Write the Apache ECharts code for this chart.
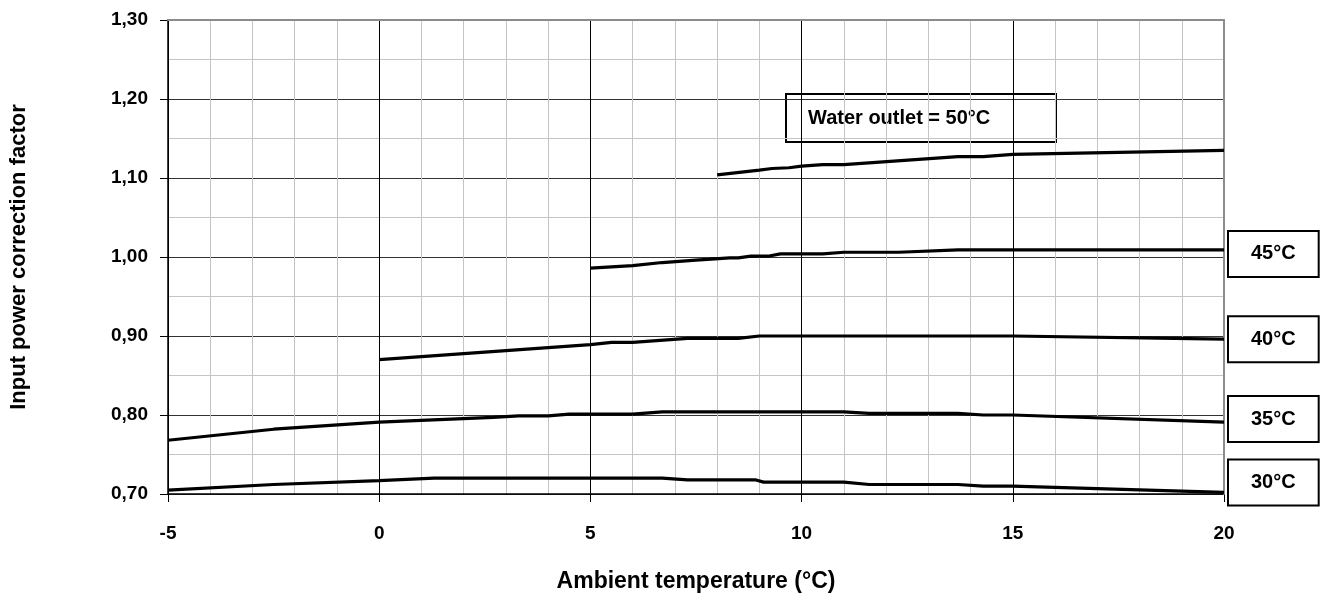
<!DOCTYPE html>
<html><head><meta charset="utf-8">
<script src="https://cdn.jsdelivr.net/npm/echarts@6/dist/echarts.min.js"></script>
<style>html,body{margin:0;padding:0;background:#fff}#c{width:1329px;height:594px}</style>
</head><body><div id="c"></div>
<script>
var xTitle = 'Ambient temperature (°C)';
var yTitle = 'Input power correction factor';
var annotation = 'Water outlet = 50°C';
var seriesNames = ['30°C', '35°C', '40°C', '45°C', '50°C'];
var s30 = [[-5,0.705],[-2.5,0.712],[0,0.717],[1.3,0.720],[6.7,0.720],[7.3,0.718],[8.9,0.718],[9.1,0.715],[11.0,0.715],[11.6,0.712],[13.7,0.712],[14.3,0.710],[15,0.710],[20,0.702]];
var s35 = [[-5,0.768],[-2.5,0.782],[0,0.791],[2.7,0.797],[3.3,0.799],[4.0,0.799],[4.5,0.801],[6.0,0.801],[6.7,0.804],[11.0,0.804],[11.6,0.802],[13.7,0.802],[14.3,0.800],[15,0.800],[20,0.791]];
var s40 = [[0,0.870],[5,0.889],[5.5,0.892],[6.0,0.892],[7.3,0.897],[8.5,0.897],[9.0,0.900],[15,0.900],[20,0.896]];
var s45 = [[5,0.986],[6,0.989],[6.7,0.993],[7.5,0.996],[8.3,0.999],[8.5,0.999],[8.8,1.001],[9.2,1.001],[9.5,1.004],[10.5,1.004],[11.0,1.006],[12.3,1.006],[13.7,1.009],[20,1.009]];
var s50 = [[8,1.104],[9,1.110],[9.3,1.112],[9.7,1.113],[10,1.115],[10.5,1.117],[11,1.117],[13.7,1.127],[14.3,1.127],[15,1.130],[20,1.135]];
var allData = [s30, s35, s40, s45, s50];
var labelOffsets = [-10, -3, 0, 4, null];

var FONT = 'Liberation Sans, Arial, sans-serif';
var chart = echarts.init(document.getElementById('c'), null, {renderer: 'canvas'});

var series = allData.map(function (d, i) {
  var s = {
    type: 'line', name: seriesNames[i], data: d, showSymbol: false, symbol: 'none',
    lineStyle: {color: '#000', width: 3.2}, z: 10, animation: false
  };
  if (labelOffsets[i] !== null) {
    s.endLabel = {
      show: true, formatter: seriesNames[i], distance: 5, offset: [0, labelOffsets[i]],
      color: '#000', fontFamily: FONT, fontWeight: 'bold', fontSize: 20, lineHeight: 20,
      backgroundColor: '#fff', borderColor: '#000', borderWidth: 2,
      align: 'left', verticalAlign: 'middle', padding: [12, 22, 12, 22]
    };
  }
  return s;
});

chart.setOption({
  animation: false,
  backgroundColor: '#fff',
  grid: {left: 168, right: 105, top: 20, bottom: 100, containLabel: false, outerBoundsMode: 'none',
    show: true, borderWidth: 0, backgroundColor: '#fff'},
  xAxis: [{
    type: 'value', min: -5, max: 20, interval: 5,
    axisLine: {show: true, onZero: false, lineStyle: {color: '#000', width: 1.5}},
    axisTick: {show: true, length: 8, lineStyle: {color: '#000'}},
    minorTick: {show: false, splitNumber: 5},
    splitLine: {show: true, lineStyle: {color: '#000', width: 1}},
    minorSplitLine: {show: true, lineStyle: {color: '#c4c4c4', width: 1}},
    axisLabel: {color: '#000', fontFamily: FONT, fontWeight: 'bold', fontSize: 19, margin: 30},
    name: xTitle, nameLocation: 'middle', nameGap: 76,
    nameTextStyle: {color: '#000', fontFamily: FONT, fontWeight: 'bold', fontSize: 23}
  }, {
    type: 'value', position: 'top', min: -5, max: 20, interval: 5, z: 5,
    axisLine: {show: true, onZero: false, lineStyle: {color: '#8c8c8c', width: 2}},
    axisTick: {show: false}, axisLabel: {show: false}, splitLine: {show: false}
  }],
  yAxis: [{
    type: 'value', min: 0.7, max: 1.3, interval: 0.1,
    axisLine: {show: true, onZero: false, lineStyle: {color: '#000', width: 1.5}},
    axisTick: {show: true, length: 8, lineStyle: {color: '#000'}},
    minorTick: {show: false, splitNumber: 2},
    splitLine: {show: true, lineStyle: {color: '#333', width: 1}},
    minorSplitLine: {show: true, lineStyle: {color: '#c4c4c4', width: 1}},
    axisLabel: {color: '#000', fontFamily: FONT, fontWeight: 'bold', fontSize: 19, margin: 20,
      formatter: function (v) { return v.toFixed(2).replace('.', ','); }},
    name: yTitle, nameLocation: 'middle', nameGap: 138,
    nameTextStyle: {color: '#000', fontFamily: FONT, fontWeight: 'bold', fontSize: 22}
  }, {
    type: 'value', position: 'right', min: 0.7, max: 1.3, interval: 0.1, z: 5,
    axisLine: {show: true, onZero: false, lineStyle: {color: '#8c8c8c', width: 2}},
    axisTick: {show: false}, axisLabel: {show: false}, splitLine: {show: false}
  }],
  series: series,
  graphic: [{
    type: 'group', left: 785, top: 93, z: 100,
    children: [{
      type: 'rect', shape: {x: 0, y: 0, width: 270, height: 48},
      style: {fill: '#fff', stroke: '#000', lineWidth: 2}
    }, {
      type: 'text', x: 22, y: 24,
      style: {text: annotation, fill: '#000', font: 'bold 20px ' + FONT, verticalAlign: 'middle', textAlign: 'left'}
    }]
  }]
});
</script></body></html>
